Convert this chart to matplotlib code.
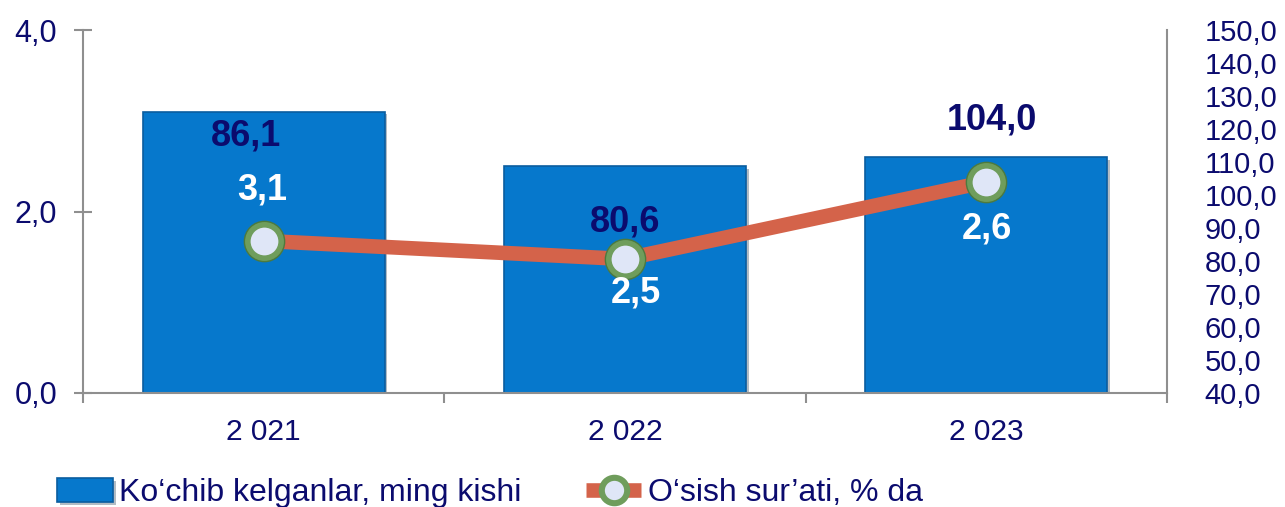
import numpy as np
import matplotlib
matplotlib.use("Agg")
import matplotlib.pyplot as plt
import matplotlib.patheffects as pe

plt.rcParams['font.family'] = ['Liberation Sans', 'DejaVu Sans']

# data
years = ['2 021', '2 022', '2 023']
arrivals = [3.1, 2.5, 2.6]          # Ko'chib kelganlar, ming kishi
growth = [86.1, 80.6, 104.0]         # O'sish sur'ati, % da
arrivals_labels = ['3,1', '2,5', '2,6']
growth_labels = ['86,1', '80,6', '104,0']
left_ticks = [0, 2, 4]
right_ticks = list(range(40, 151, 10))

navy = '#0b0b6e'
grey = '#8f8f8f'
bar_col = '#0678cc'
line_col = '#d4634a'

def comma(v):
    return f"{v:.1f}".replace('.', ',')

fig = plt.figure(figsize=(12.85, 5.07), dpi=100)
ax = fig.add_axes([83/1285, 1 - 393/507, (1167-83)/1285, (393-30)/507])
x = np.arange(len(years))

bars = ax.bar(x, arrivals, width=0.67, color=bar_col, edgecolor='#0a5d9f', linewidth=1.2,
              label='Ko‘chib kelganlar, ming kishi')
for b in bars:
    b.set_path_effects([pe.SimplePatchShadow(offset=(2, -2), alpha=0.3), pe.Normal()])

ax.set_xlim(-0.5, 2.5)
ax.set_ylim(0, 4)
ax.set_yticks(left_ticks)
ax.set_yticklabels([comma(v) for v in left_ticks])
ax.set_xticks(x)
ax.set_xticklabels(years)
ax.set_xticks([-0.5, 0.5, 1.5, 2.5], minor=True)
ax.tick_params(axis='x', which='major', length=0, pad=18, labelsize=21.5, labelcolor=navy)
ax.tick_params(axis='x', which='minor', length=7, width=1.5, color=grey, direction='out')
ax.tick_params(axis='y', length=13, width=1.5, color=grey, direction='inout', pad=12,
               labelsize=22, labelcolor=navy)
for s in ['top', 'right']:
    ax.spines[s].set_visible(False)
for s in ['left', 'bottom']:
    ax.spines[s].set_color(grey)
    ax.spines[s].set_linewidth(1.5)

ax2 = ax.twinx()
ax2.set_ylim(40, 150)
ax2.set_yticks(right_ticks)
ax2.set_yticklabels([comma(v) for v in right_ticks])
ax2.tick_params(axis='y', length=0, pad=27, labelsize=21, labelcolor=navy)
for s in ['top', 'left', 'bottom']:
    ax2.spines[s].set_visible(False)
ax2.spines['right'].set_color(grey)
ax2.spines['right'].set_linewidth(1.5)

line, = ax2.plot(x, growth, color=line_col, lw=10.5, solid_capstyle='butt',
                 marker='o', ms=24.4, mfc='#dfe6f7', mec='#6f9d5c', mew=4.4,
                 label='O‘sish sur’ati, % da')
# darker outline of the marker ring
ax2.plot(x, growth, ls='none', marker='o', ms=29, mfc='none', mec='#4d7a3e', mew=1)

# label offsets (px, relative to the line points)
rate_off = [(-18, 105), (0, 37), (6, 62)]
bar_off = [(-1, 51), (11, -34), (1, -47)]
for i in range(len(x)):
    ax2.annotate(growth_labels[i], (x[i], growth[i]),
                 xytext=(rate_off[i][0]*0.72, rate_off[i][1]*0.72), textcoords='offset points',
                 ha='center', va='center', fontsize=26, fontweight='bold', color=navy)
    ax2.annotate(arrivals_labels[i], (x[i], growth[i]),
                 xytext=(bar_off[i][0]*0.72, bar_off[i][1]*0.72), textcoords='offset points',
                 ha='center', va='center', fontsize=26, fontweight='bold', color='white')

fig.legend(handles=[bars, line], loc='center left', bbox_to_anchor=(57/1285, 1 - 493/507),
           ncol=2, frameon=False, fontsize=23, labelcolor=navy, handlelength=1.75,
           handleheight=0.8, handletextpad=0.2, columnspacing=2.0, borderpad=0, borderaxespad=0,
           markerscale=0.75)

fig.savefig('out.png', dpi=100)
